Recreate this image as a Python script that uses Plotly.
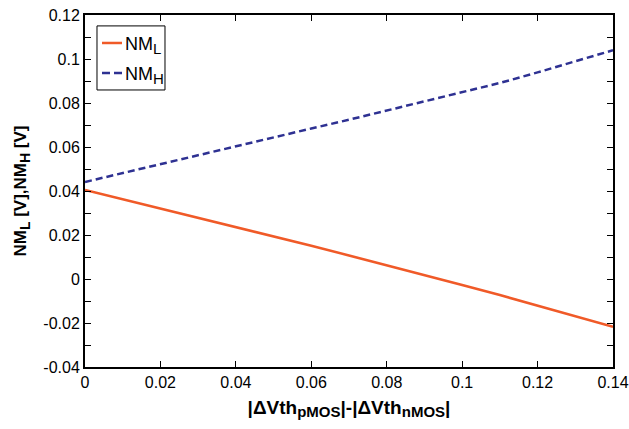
import plotly.graph_objects as go

# Threshold-voltage mismatch |dVth_p| - |dVth_n| (V)
dvth = [0.00, 0.01, 0.02, 0.03, 0.04, 0.05, 0.06, 0.07,
        0.08, 0.09, 0.10, 0.11, 0.12, 0.13, 0.14]

# Low noise margin NM_L (V)
nm_l = [0.0405, 0.0363, 0.0321, 0.0279, 0.0237, 0.0194, 0.0151, 0.0107,
        0.0063, 0.0018, -0.0027, -0.0073, -0.0120, -0.0168, -0.0217]

# High noise margin NM_H (V)
nm_h = [0.0441, 0.0482, 0.0523, 0.0564, 0.0604, 0.0644, 0.0684, 0.0724,
        0.0765, 0.0806, 0.0848, 0.0891, 0.0939, 0.0988, 0.1040]

series_names = ["NM<sub><span style='font-size:15px'>L</span></sub>",
                "NM<sub><span style='font-size:15px'>H</span></sub>"]
series_colors = ["#F05A28", "#2E3192"]
series_dash = ["solid", "7px,4px"]

FONT = "Liberation Sans, Arial, Helvetica, sans-serif"

fig = go.Figure()
for yv, name, col, dash in zip([nm_l, nm_h], series_names, series_colors, series_dash):
    fig.add_trace(go.Scatter(
        x=dvth, y=yv, mode="lines", name=name, showlegend=False,
        line=dict(color=col, width=2.5, dash=dash),
    ))

axis_common = dict(
    showline=True, linecolor="black", linewidth=2, mirror="ticks",
    ticks="inside", ticklen=6, tickwidth=1, tickcolor="black",
    showgrid=False, zeroline=False, automargin=False,
    tickfont=dict(family=FONT, size=16, color="black"),
)

fig.update_xaxes(
    range=[0, 0.14], tickmode="array",
    tickvals=[0, 0.02, 0.04, 0.06, 0.08, 0.1, 0.12, 0.14],
    ticktext=["0", "0.02", "0.04", "0.06", "0.08", "0.1", "0.12", "0.14"],
    title=dict(
        text="<b>|ΔVth<sub><span style='font-size:15px'>pMOS</span></sub>|-"
             "|ΔVth<sub><span style='font-size:15px'>nMOS</span></sub>|</b>",
        font=dict(family=FONT, size=19, color="black"), standoff=10,
    ),
    **axis_common,
)
fig.update_yaxes(
    range=[-0.04, 0.12], tickmode="array",
    tickvals=[-0.04, -0.02, 0, 0.02, 0.04, 0.06, 0.08, 0.1, 0.12],
    ticktext=["-0.04", "-0.02", "0", "0.02", "0.04", "0.06", "0.08", "0.1", "0.12"],
    minor=dict(ticks="inside", tickvals=[-0.03, -0.01, 0.01, 0.03, 0.05, 0.07, 0.09, 0.11],
               ticklen=6, tickcolor="black", tickwidth=1),
    title=dict(
        text="<b>NM<sub><span style='font-size:14px'>L</span></sub> [V],"
             "NM<sub><span style='font-size:14px'>H</span></sub> [V]</b>",
        font=dict(family=FONT, size=17, color="black"), standoff=12,
    ),
    **axis_common,
)

# Legend box drawn in paper coordinates
fig.add_shape(type="rect", xref="paper", yref="paper",
              x0=0.0227, x1=0.1515, y0=0.787, y1=0.969,
              line=dict(color="black", width=1), fillcolor="white", layer="above")
legend_y = [0.9205, 0.8352]
for ly, name, col, dash in zip(legend_y, series_names, series_colors, series_dash):
    fig.add_shape(type="line", xref="paper", yref="paper",
                  x0=0.0322, x1=0.0701, y0=ly, y1=ly,
                  line=dict(color=col, width=2.5, dash="8px,4px" if dash != "solid" else "solid"),
                  layer="above")
    fig.add_annotation(xref="paper", yref="paper", x=0.072, y=ly - 0.006,
                       xanchor="left", yanchor="middle", showarrow=False,
                       text=name, font=dict(family=FONT, size=18, color="black"))

fig.update_layout(
    width=629, height=429,
    margin=dict(l=85, r=16, t=15, b=62),
    plot_bgcolor="white", paper_bgcolor="white",
    font=dict(family=FONT, color="black"),
    showlegend=False,
)

fig.write_html("out.html")
